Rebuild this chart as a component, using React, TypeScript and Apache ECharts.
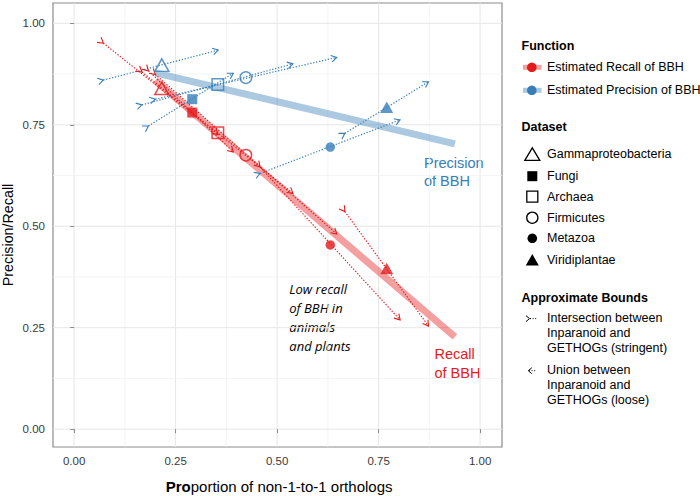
import React, { useEffect, useRef } from 'react';
import * as echarts from 'echarts';

// ---------- data ----------
const datasets = ['Gammaproteobacteria', 'Fungi', 'Archaea', 'Firmicutes', 'Metazoa', 'Viridiplantae'];
const proportion = [0.216, 0.291, 0.354, 0.423, 0.631, 0.770];
const precision = [0.897, 0.813, 0.849, 0.866, 0.695, 0.793];
const recall = [0.840, 0.780, 0.730, 0.675, 0.454, 0.396];

// approximate bounds (intersection / union) – x positions shared by both functions
const boundLowX = [0.072, 0.183, 0.167, 0.200, 0.458, 0.667];
const boundHighX = [0.355, 0.392, 0.539, 0.647, 0.803, 0.873];
const precisionLow = [0.860, 0.747, 0.799, 0.813, 0.630, 0.729];
const precisionHigh = [0.934, 0.877, 0.900, 0.916, 0.762, 0.856];
const recallLow = [0.951, 0.883, 0.880, 0.874, 0.646, 0.536];
const recallHigh = [0.726, 0.683, 0.581, 0.481, 0.269, 0.254];

// fitted trend lines
const fitX = [0.2, 0.938];
const precisionFitY = [0.878, 0.703];
const recallFitY = [0.859, 0.2275];

// axis ticks
const majorTicks = [0, 0.25, 0.5, 0.75, 1];
const minorTicks = [0.125, 0.375, 0.625, 0.875];

// ---------- styles ----------
const RED = '#E41A1C';
const BLUE = '#377EB8';
const RED_FIT = 'rgba(228,26,28,0.42)';
const BLUE_FIT = 'rgba(55,126,184,0.42)';
const FONT = '"Liberation Sans", Arial, Helvetica, sans-serif';

const shapes = ['triangle', 'rect', 'rect', 'circle', 'circle', 'triangle'];
const filled = [false, true, false, false, true, true];
const sizes: any[] = [[14, 12.5], 10, 11.5, 11.5, 9.5, [13, 11.5]];

function chevron(px: number, py: number, dx: number, dy: number, a = 5.5, b = 3.3) {
  const nx = -dy, ny = dx;
  return [
    [px - a * dx + b * nx, py - a * dy + b * ny],
    [px, py],
    [px - a * dx - b * nx, py - a * dy - b * ny],
  ];
}

function segRender(color: string) {
  return (params: any, api: any) => {
    const p1 = api.coord([api.value(0), api.value(1)]);
    const p2 = api.coord([api.value(2), api.value(3)]);
    const len = Math.hypot(p2[0] - p1[0], p2[1] - p1[1]) || 1;
    const dx = (p2[0] - p1[0]) / len, dy = (p2[1] - p1[1]) / len;
    return {
      type: 'group',
      children: [
        {
          type: 'line',
          shape: { x1: p1[0], y1: p1[1], x2: p2[0], y2: p2[1] },
          style: { stroke: color, lineWidth: 1.2, lineDash: [1.3, 1.7], fill: null },
        },
        {
          type: 'polyline',
          shape: { points: chevron(p1[0], p1[1], dx, dy) },
          style: { stroke: color, lineWidth: 1.1, fill: null },
        },
        {
          type: 'polyline',
          shape: { points: chevron(p2[0], p2[1], dx, dy) },
          style: { stroke: color, lineWidth: 1.1, fill: null },
        },
      ],
    };
  };
}

function pointData(values: number[], color: string) {
  return datasets.map((name, i) => ({
    name,
    value: [proportion[i], values[i]],
    symbol: shapes[i],
    symbolSize: sizes[i],
    itemStyle: filled[i]
      ? { color, borderWidth: 0 }
      : { color: 'rgba(0,0,0,0)', borderColor: color, borderWidth: 1.5 },
  }));
}

function txt(text: string, x: number, y: number, extra: any = {}) {
  return {
    type: 'text',
    x,
    y,
    silent: true,
    style: {
      text,
      fontFamily: FONT,
      fontSize: 12.5,
      fill: '#000',
      align: 'left',
      verticalAlign: 'middle',
      ...extra,
    },
  };
}

function legendGraphics() {
  const g: any[] = [];
  const lx = 521.5;
  const sx = 532.3;
  const tx = 547;
  g.push(txt('Function', lx, 46, { fontWeight: 'bold' }));
  // function keys
  [[67.3, RED, RED_FIT, 'Estimated Recall of BBH'], [90.3, BLUE, BLUE_FIT, 'Estimated Precision of BBH']].forEach(
    ([y, c, cf, label]: any) => {
      g.push({ type: 'line', shape: { x1: 523, y1: y, x2: 541.5, y2: y }, style: { stroke: cf, lineWidth: 5 } });
      g.push({ type: 'circle', shape: { cx: sx - 0.5, cy: y, r: 4.8 }, style: { fill: c } });
      g.push(txt(label, tx, y));
    }
  );
  g.push(txt('Dataset', lx, 126.7, { fontWeight: 'bold' }));
  const ys = [154.3, 176.2, 196.7, 217.7, 238.3, 260];
  // open triangle
  g.push({
    type: 'polygon',
    shape: { points: [[sx - 7.5, ys[0] + 6], [sx + 7.5, ys[0] + 6], [sx, ys[0] - 6.5]] },
    style: { fill: null, stroke: '#000', lineWidth: 1.3 },
  });
  // filled square
  g.push({ type: 'rect', shape: { x: sx - 5, y: ys[1] - 5, width: 10, height: 10 }, style: { fill: '#000' } });
  // open square
  g.push({ type: 'rect', shape: { x: sx - 5.5, y: ys[2] - 5.5, width: 11, height: 11 }, style: { fill: null, stroke: '#000', lineWidth: 1.3 } });
  // open circle
  g.push({ type: 'circle', shape: { cx: sx, cy: ys[3], r: 5.6 }, style: { fill: null, stroke: '#000', lineWidth: 1.3 } });
  // filled circle
  g.push({ type: 'circle', shape: { cx: sx, cy: ys[4], r: 4.8 }, style: { fill: '#000' } });
  // filled triangle
  g.push({
    type: 'polygon',
    shape: { points: [[sx - 6.5, ys[5] + 5.5], [sx + 6.5, ys[5] + 5.5], [sx, ys[5] - 6]] },
    style: { fill: '#000' },
  });
  datasets.forEach((d, i) => g.push(txt(d, tx, ys[i])));

  g.push(txt('Approximate Bounds', lx, 298.3, { fontWeight: 'bold' }));
  // intersection key: chevron pointing right at the start of dotted line
  const iy = 318.6;
  g.push({ type: 'polyline', shape: { points: chevron(529.5, iy, 1, 0, 3.5, 3) }, style: { stroke: '#000', lineWidth: 1, fill: null } });
  g.push({ type: 'line', shape: { x1: 530, y1: iy, x2: 537, y2: iy }, style: { stroke: '#000', lineWidth: 1, lineDash: [1, 1.6] } });
  ['Intersection between', 'Inparanoid and', 'GETHOGs (stringent)'].forEach((t, i) => g.push(txt(t, tx, 318.3 + i * 15)));
  // union key: chevron pointing left
  const uy = 370.7;
  g.push({ type: 'polyline', shape: { points: chevron(528.3, uy, -1, 0, 3.5, 3) }, style: { stroke: '#000', lineWidth: 1, fill: null } });
  g.push({ type: 'line', shape: { x1: 529, y1: uy, x2: 536, y2: uy }, style: { stroke: '#000', lineWidth: 1, lineDash: [1, 1.6] } });
  ['Union between', 'Inparanoid and', 'GETHOGs (loose)'].forEach((t, i) => g.push(txt(t, tx, 370.3 + i * 15)));
  return g;
}

function annotationGraphics() {
  const g: any[] = [];
  g.push(txt('Precision', 424, 162.7, { fill: BLUE, fontSize: 14.5 }));
  g.push(txt('of BBH', 424, 181.2, { fill: BLUE, fontSize: 14.5 }));
  g.push(txt('Recall', 434.5, 354.3, { fill: RED, fontSize: 14.5 }));
  g.push(txt('of BBH', 434.5, 373, { fill: RED, fontSize: 14.5 }));
  ['Low recall', 'of BBH in', 'animals', 'and plants'].forEach((t, i) =>
    g.push(txt(t, 289.3, 289.3 + i * 18.9, { fontSize: 13, fontStyle: 'italic', fontFamily: '"Open Sans", sans-serif' }))
  );
  // axis titles
  g.push({
    type: 'text',
    x: 165.7,
    y: 486.7,
    silent: true,
    style: {
      text: '{b|Pro}{n|portion of non-1-to-1 orthologs}',
      align: 'left',
      verticalAlign: 'middle',
      rich: {
        b: { fontFamily: FONT, fontSize: 15, fontWeight: 'bold', fill: '#000' },
        n: { fontFamily: FONT, fontSize: 15, fill: '#000' },
      },
    },
  });
  g.push({
    type: 'text',
    x: 7.5,
    y: 235,
    rotation: Math.PI / 2,
    silent: true,
    style: { text: 'Precision/Recall', fontFamily: FONT, fontSize: 14.3, fill: '#000', align: 'center', verticalAlign: 'middle' },
  });
  return g;
}

function gridRender(vertical: boolean) {
  return (params: any, api: any) => {
    const cs = params.coordSys;
    const v = api.value(0);
    const major = api.value(1) === 1;
    const style = { stroke: major ? '#e6e6e6' : '#f1f1f1', lineWidth: major ? 1 : 0.8 };
    if (vertical) {
      const x = api.coord([v, 0])[0];
      return { type: 'line', shape: { x1: x, y1: cs.y, x2: x, y2: cs.y + cs.height }, style };
    }
    const y = api.coord([0, v])[1];
    return { type: 'line', shape: { x1: cs.x, y1: y, x2: cs.x + cs.width, y2: y }, style };
  };
}

export default function App() {
  const ref = useRef<HTMLDivElement>(null);
  useEffect(() => {
    if (!ref.current) return;
    const chart = echarts.init(ref.current, null, { renderer: 'svg' });
    const gridData = [...majorTicks.map((v) => [v, 1]), ...minorTicks.map((v) => [v, 0])];
    const axisCommon = {
      type: 'value',
      splitLine: { show: false },
      axisLine: { show: false },
      axisTick: { show: true, customValues: majorTicks, length: 4, lineStyle: { color: '#8c8c8c', width: 1 } },
      axisLabel: {
        customValues: majorTicks,
        formatter: (v: number) => v.toFixed(2),
        color: '#3a3a3a',
        fontSize: 11.5,
        fontFamily: FONT,
        margin: 8,
      },
    };
    chart.setOption({
      animation: false,
      backgroundColor: '#fff',
      grid: { left: 53, right: 198, top: 3, bottom: 49, show: true, borderColor: '#8c8c8c', borderWidth: 1.2, backgroundColor: 'transparent' },
      xAxis: { ...axisCommon, min: -0.052, max: 1.054 },
      yAxis: { ...axisCommon, min: -0.044, max: 1.05 },
      series: [
        { type: 'custom', silent: true, z: 0, data: gridData, encode: { x: 0 }, renderItem: gridRender(true) },
        { type: 'custom', silent: true, z: 0, data: gridData, encode: { y: 0 }, renderItem: gridRender(false) },
        {
          type: 'line', z: 1, symbol: 'none', silent: true,
          data: fitX.map((x, i) => [x, precisionFitY[i]]),
          lineStyle: { color: BLUE_FIT, width: 7, cap: 'butt' },
        },
        {
          type: 'line', z: 1, symbol: 'none', silent: true,
          data: fitX.map((x, i) => [x, recallFitY[i]]),
          lineStyle: { color: RED_FIT, width: 7, cap: 'butt' },
        },
        {
          type: 'custom', z: 2, silent: true,
          data: datasets.map((_, i) => [boundLowX[i], precisionLow[i], boundHighX[i], precisionHigh[i]]),
          encode: { x: [0, 2], y: [1, 3] },
          renderItem: segRender(BLUE),
        },
        {
          type: 'custom', z: 2, silent: true,
          data: datasets.map((_, i) => [boundLowX[i], recallLow[i], boundHighX[i], recallHigh[i]]),
          encode: { x: [0, 2], y: [1, 3] },
          renderItem: segRender(RED),
        },
        { type: 'scatter', z: 3, name: 'Estimated Precision of BBH', data: pointData(precision, BLUE) },
        { type: 'scatter', z: 3, name: 'Estimated Recall of BBH', data: pointData(recall, RED) },
      ],
      graphic: [...legendGraphics(), ...annotationGraphics()],
    });
    return () => chart.dispose();
  }, []);
  return <div ref={ref} style={{ position: 'fixed', left: 0, top: 0, width: 700, height: 496 }} />;
}
